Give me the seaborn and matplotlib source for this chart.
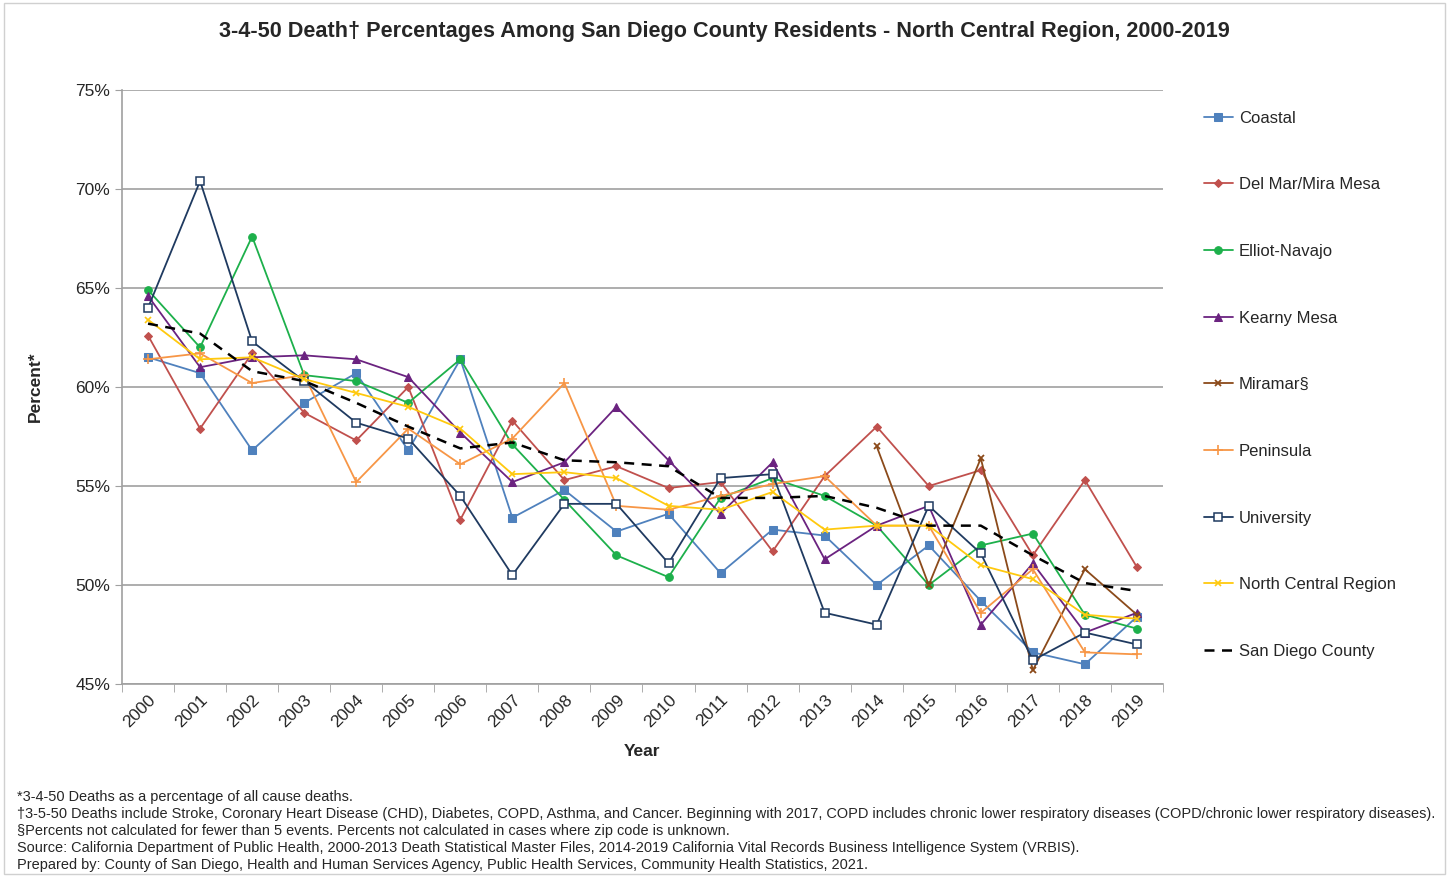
#!/usr/bin/env python3
"""3-4-50 death percentages, North Central Region, 2000-2019"""

import numpy as np
import pandas as pd
import matplotlib
matplotlib.use("Agg")
import matplotlib.pyplot as plt
from matplotlib.patches import Rectangle
import seaborn as sns

years = list(range(2000, 2020))

coastal = [61.5, 60.7, 56.8, 59.2, 60.7, 56.8, 61.4, 53.4, 54.8, 52.7,
           53.6, 50.6, 52.8, 52.5, 50.0, 52.0, 49.2, 46.6, 46.0, 48.4]
del_mar = [62.6, 57.9, 61.7, 58.7, 57.3, 60.0, 53.3, 58.3, 55.3, 56.0,
           54.9, 55.2, 51.7, 55.5, 58.0, 55.0, 55.8, 51.5, 55.3, 50.9]
elliot = [64.9, 62.0, 67.6, 60.6, 60.3, 59.2, 61.4, 57.1, 54.3, 51.5,
          50.4, 54.4, 55.4, 54.5, 53.0, 50.0, 52.0, 52.6, 48.5, 47.8]
kearny = [64.6, 61.0, 61.5, 61.6, 61.4, 60.5, 57.7, 55.2, 56.2, 59.0,
          56.3, 53.6, 56.2, 51.3, 53.0, 54.0, 48.0, 51.1, 47.6, 48.6]
miramar = [np.nan] * 14 + [57.0, 50.0, 56.4, 45.7, 50.8, 48.5]
peninsula = [61.4, 61.7, 60.2, 60.6, 55.2, 57.9, 56.1, 57.4, 60.2, 54.0,
             53.8, 54.5, 55.1, 55.5, 53.0, 53.0, 48.6, 50.8, 46.6, 46.5]
university = [64.0, 70.4, 62.3, 60.3, 58.2, 57.4, 54.5, 50.5, 54.1, 54.1,
              51.1, 55.4, 55.6, 48.6, 48.0, 54.0, 51.6, 46.2, 47.6, 47.0]
north_central = [63.4, 61.4, 61.5, 60.4, 59.7, 59.0, 57.9, 55.6, 55.7, 55.4,
                 54.0, 53.8, 54.7, 52.8, 53.0, 53.0, 51.0, 50.3, 48.5, 48.3]
san_diego = [63.2, 62.7, 60.8, 60.3, 59.2, 58.0, 56.9, 57.2, 56.3, 56.2,
             56.0, 54.4, 54.4, 54.5, 53.9, 53.0, 53.0, 51.5, 50.1, 49.7]

series = [
    ("Coastal", coastal, dict(color="#4F81BD", marker="s", markersize=5.5)),
    ("Del Mar/Mira Mesa", del_mar, dict(color="#C0504D", marker="D", markersize=4.5)),
    ("Elliot-Navajo", elliot, dict(color="#1DB04B", marker="o", markersize=5.5)),
    ("Kearny Mesa", kearny, dict(color="#6B2380", marker="^", markersize=5.5)),
    ("Miramar§", miramar, dict(color="#8B4A1A", marker="x", markersize=5, markeredgewidth=1.3)),
    ("Peninsula", peninsula, dict(color="#F79646", marker="+", markersize=6.5, markeredgewidth=1.2)),
    ("University", university, dict(color="#1F3A60", marker="s", markersize=5.5,
                                    markerfacecolor="white", markeredgewidth=1.1)),
    ("North Central Region", north_central, dict(color="#FFC90E", marker="x", markersize=4.5,
                                                 markeredgewidth=1.2)),
    ("San Diego County", san_diego, dict(color="black", linestyle=(0, (4, 3)), linewidth=1.8)),
]

footnotes = [
    "*3-4-50 Deaths as a percentage of all cause deaths.",
    "†3-5-50 Deaths include Stroke, Coronary Heart Disease (CHD), Diabetes, COPD, Asthma, and Cancer. "
    "Beginning with 2017, COPD includes chronic lower respiratory diseases (COPD/chronic lower respiratory diseases).",
    "§Percents not calculated for fewer than 5 events. Percents not calculated in cases where zip code is unknown.",
    "Source: California Department of Public Health, 2000-2013 Death Statistical Master Files, "
    "2014-2019 California Vital Records Business Intelligence System (VRBIS).",
    "Prepared by: County of San Diego, Health and Human Services Agency, Public Health Services, "
    "Community Health Statistics, 2021.",
]

sns.set_style("white")
plt.rcParams["font.family"] = ["Liberation Sans", "DejaVu Sans"]

fig = plt.figure(figsize=(14.49, 8.77), dpi=100)
ax = fig.add_axes([0.0842, 0.22, 0.7184, 0.6774])

for name, vals, style in series:
    df = pd.DataFrame({"Year": years, "Percent": vals}).dropna()
    # seaborn defaults marker edges to white, which hides x/+ markers
    kw = dict(linewidth=1.3, markeredgecolor=style["color"])
    kw.update(style)
    sns.lineplot(data=df, x="Year", y="Percent", ax=ax, label=name, **kw)

ax.set_xlim(1999.5, 2019.5)
ax.set_ylim(45, 75)
ax.set_yticks(range(45, 76, 5))
ax.set_yticklabels([f"{v}%" for v in range(45, 76, 5)], fontsize=12.5)
ax.yaxis.grid(True, color="#A0A0A0", linewidth=1.2)
ax.set_axisbelow(True)

ax.set_xticks(years)
ax.set_xticklabels([str(y) for y in years], rotation=45, ha="right",
                   rotation_mode="anchor", fontsize=12.5)
ax.set_xticks(np.arange(1999.5, 2020, 1), minor=True)
ax.tick_params(axis="x", which="major", length=0, pad=6)
ax.tick_params(axis="x", which="minor", length=6, color="#A0A0A0", direction="out", bottom=True)
ax.tick_params(axis="y", length=5, color="#A0A0A0", direction="out", left=True)

for side in ["top", "right"]:
    ax.spines[side].set_visible(False)
for side in ["left", "bottom"]:
    ax.spines[side].set_color("#A0A0A0")
    ax.spines[side].set_linewidth(1.2)

ax.set_xlabel("Year", fontsize=12.5, fontweight="bold", labelpad=10)
ax.set_ylabel("Percent*", fontsize=12.5, fontweight="bold", labelpad=23)

handles, labels = ax.get_legend_handles_labels()
ax.legend_.remove()
fig.legend(handles, labels, loc="upper left", bbox_to_anchor=(0.8205, 0.891),
           frameon=False, fontsize=12, labelspacing=3.1, handlelength=1.75,
           handletextpad=0.35)

fig.suptitle("3-4-50 Death† Percentages Among San Diego County Residents - North Central Region, 2000-2019",
             x=0.5, y=0.976, fontsize=15.6, fontweight="bold")

for i, line in enumerate(footnotes):
    fig.text(0.0117, 1 - (797 + 17 * i) / 877, line, fontsize=10.45, va="center", ha="left")

fig.patches.append(Rectangle((0.003, 0.003), 0.994, 0.994, transform=fig.transFigure,
                             fill=False, edgecolor="#D0D0D0", linewidth=1))

plt.savefig("out.png", dpi=100)
plt.close()
